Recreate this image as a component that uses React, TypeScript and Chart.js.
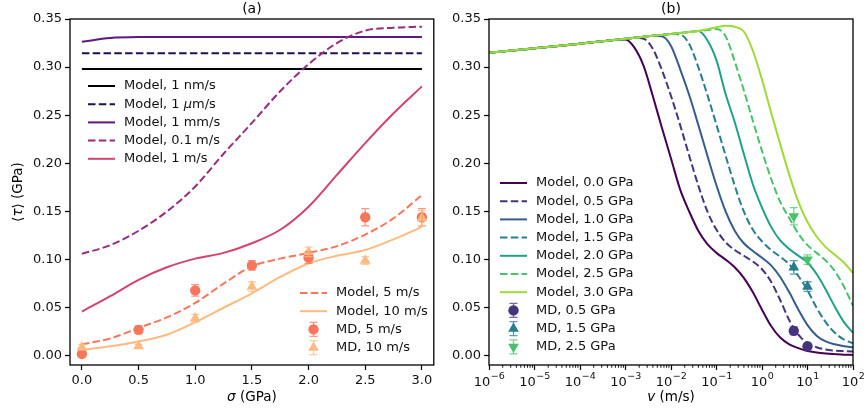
import React, { useEffect, useRef } from 'react';
import { Chart, registerables } from 'chart.js';

Chart.register(...registerables);

const FONT = "'DejaVu Sans', sans-serif";

// ---------- shared ticks ----------
const YTICKS = [0, 0.05, 0.1, 0.15, 0.2, 0.25, 0.3, 0.35];
const YTICK_LABELS = ['0.00', '0.05', '0.10', '0.15', '0.20', '0.25', '0.30', '0.35'];

// ---------- panel (a) ----------
const XTICKS_A = [0, 0.5, 1, 1.5, 2, 2.5, 3];
const XTICK_LABELS_A = ['0.0', '0.5', '1.0', '1.5', '2.0', '2.5', '3.0'];

const SIGMA_ENDS = [0, 3];
const SIGMA = [0, 0.25, 0.5, 0.75, 1, 1.25, 1.5, 1.75, 2, 2.25, 2.5, 2.75, 3];

const MODEL_1NM = [0.298, 0.298];
const MODEL_1UM = [0.3143, 0.3143];
const MODEL_1MM = [0.3264, 0.3302, 0.3312, 0.3313, 0.3313, 0.3313, 0.3313, 0.3313, 0.3313, 0.3313, 0.3313, 0.3313, 0.3313];
const MODEL_01MS = [0.106, 0.115, 0.13, 0.15, 0.176, 0.21, 0.242, 0.275, 0.303, 0.325, 0.338, 0.341, 0.342];
const MODEL_1MS = [0.046, 0.062, 0.079, 0.092, 0.101, 0.107, 0.117, 0.131, 0.155, 0.188, 0.221, 0.252, 0.28];
const MODEL_5MS = [0.012, 0.018, 0.029, 0.04, 0.055, 0.075, 0.093, 0.101, 0.107, 0.114, 0.126, 0.143, 0.167];
const MODEL_10MS = [0.006, 0.01, 0.015, 0.022, 0.035, 0.05, 0.065, 0.082, 0.096, 0.104, 0.11, 0.121, 0.134];

const MD_SIGMA = [0, 0.5, 1, 1.5, 2, 2.5, 3];
const MD_5MS = [0.002, 0.027, 0.068, 0.094, 0.102, 0.144, 0.144];
const MD_5MS_ERR = [0.003, 0.004, 0.006, 0.005, 0.006, 0.009, 0.009];
const MD_10MS = [0.009, 0.01, 0.039, 0.072, 0.108, 0.099, 0.143];
const MD_10MS_ERR = [0.003, 0.002, 0.004, 0.005, 0.005, 0.004, 0.008];

// ---------- panel (b) ----------
const XTICKS_B = [1e-6, 1e-5, 1e-4, 1e-3, 1e-2, 1e-1, 1, 10, 100];
const XTICK_BASE_B = '10';
const XTICK_EXP_B = ['−6', '−5', '−4', '−3', '−2', '−1', '0', '1', '2'];
const MINOR_DECADES = [-6, -5, -4, -3, -2, -1, 0, 1];
const MINOR_MULT = [2, 3, 4, 5, 6, 7, 8, 9];

const V_EXP = [-6, -5, -4, -3.5, -3.2, -3.0, -2.8, -2.6, -2.4, -2.2, -2.0, -1.8, -1.6, -1.4, -1.2, -1.0, -0.8, -0.6, -0.4, -0.2, 0.0, 0.2, 0.4, 0.6, 0.8, 1.0, 1.2, 1.4, 1.6, 1.8, 2.0];

const P00 = [0.315, 0.3195, 0.3243, 0.327, 0.3285, 0.3288, 0.32, 0.301, 0.27, 0.237, 0.205, 0.173, 0.15, 0.13, 0.116, 0.107, 0.1, 0.092, 0.081, 0.066, 0.048, 0.031, 0.019, 0.012, 0.008, 0.005, 0.0035, 0.0025, 0.0018, 0.0012, 0.001];
const P05 = [0.315, 0.3195, 0.3243, 0.327, 0.3285, 0.3295, 0.3305, 0.3295, 0.319, 0.297, 0.27, 0.24, 0.208, 0.177, 0.15, 0.131, 0.118, 0.11, 0.104, 0.098, 0.09, 0.077, 0.058, 0.037, 0.022, 0.013, 0.009, 0.0065, 0.0055, 0.005, 0.0045];
const P10 = [0.315, 0.3195, 0.3243, 0.327, 0.3285, 0.3295, 0.3305, 0.3315, 0.3325, 0.332, 0.322, 0.298, 0.271, 0.24, 0.208, 0.177, 0.15, 0.13, 0.117, 0.109, 0.102, 0.094, 0.082, 0.066, 0.048, 0.032, 0.021, 0.015, 0.012, 0.01, 0.009];
const P15 = [0.315, 0.3195, 0.3243, 0.327, 0.3285, 0.3295, 0.3305, 0.3315, 0.3325, 0.3335, 0.3345, 0.334, 0.324, 0.3, 0.271, 0.24, 0.208, 0.177, 0.15, 0.131, 0.119, 0.11, 0.103, 0.095, 0.083, 0.068, 0.05, 0.035, 0.024, 0.017, 0.013];
const P20 = [0.315, 0.3195, 0.3243, 0.327, 0.3285, 0.3295, 0.3305, 0.3315, 0.3325, 0.3335, 0.3345, 0.3355, 0.3365, 0.3375, 0.328, 0.307, 0.272, 0.243, 0.21, 0.178, 0.154, 0.134, 0.12, 0.111, 0.104, 0.097, 0.085, 0.069, 0.051, 0.035, 0.024];
const P25 = [0.315, 0.3195, 0.3243, 0.327, 0.3285, 0.3295, 0.3305, 0.3315, 0.3325, 0.3335, 0.3345, 0.3355, 0.3365, 0.3375, 0.3385, 0.3395, 0.332, 0.306, 0.276, 0.244, 0.213, 0.184, 0.16, 0.143, 0.127, 0.115, 0.107, 0.099, 0.088, 0.072, 0.052];
const P30 = [0.315, 0.3195, 0.3243, 0.327, 0.3285, 0.3295, 0.3305, 0.3315, 0.3325, 0.3335, 0.3345, 0.3355, 0.3365, 0.3375, 0.3395, 0.3415, 0.343, 0.342, 0.337, 0.317, 0.287, 0.253, 0.22, 0.188, 0.16, 0.139, 0.124, 0.113, 0.105, 0.097, 0.086];

const MD_V = [5, 10];
const MD_05 = [0.026, 0.01];
const MD_05_ERR = [0.004, 0.002];
const MD_15 = [0.092, 0.072];
const MD_15_ERR = [0.007, 0.005];
const MD_25 = [0.145, 0.1];
const MD_25_ERR = [0.009, 0.005];

const MAGMA = ['#000004', '#221150', '#5f187f', '#982d80', '#d3436e', '#f8765c', '#febb81'];
const VIR = ['#440154', '#46337e', '#365c8d', '#277f8e', '#1fa187', '#4ac16d', '#a0da39'];

const DASH = [7.5, 3.3];
const LW = 2;

// ---------- helpers ----------
const pts = (xs: number[], ys: number[]) => xs.map((x, i) => ({ x, y: ys[i] }));

function lineDs(label: string, xs: number[], ys: number[], color: string, dashed: boolean, order: number) {
  return {
    label, data: pts(xs, ys), showLine: true, borderColor: color, backgroundColor: color,
    borderWidth: LW, borderDash: dashed ? DASH : [], pointRadius: 0, pointHoverRadius: 0,
    cubicInterpolationMode: 'monotone', fill: false, order,
  };
}

function mdDs(label: string, xs: number[], ys: number[], errs: number[], color: string, style: string, rotation: number, radius: number, order: number) {
  return {
    label, data: pts(xs, ys), showLine: false, pointStyle: style, pointRotation: rotation,
    pointRadius: radius, pointHoverRadius: radius, pointBackgroundColor: color, pointBorderColor: color,
    borderColor: color, backgroundColor: color, pointBorderWidth: 0, errorBars: errs, order,
  };
}

function drawRich(ctx: CanvasRenderingContext2D, text: string, x: number, y: number, size: number, align: string) {
  const parts = text.split('$');
  const widths: number[] = [];
  let total = 0;
  parts.forEach((p, i) => {
    ctx.font = `${i % 2 ? 'italic ' : ''}${size}px ${FONT}`;
    const w = ctx.measureText(p).width;
    widths.push(w);
    total += w;
  });
  let cx = align === 'center' ? x - total / 2 : x;
  ctx.textAlign = 'left';
  ctx.textBaseline = 'middle';
  parts.forEach((p, i) => {
    ctx.font = `${i % 2 ? 'italic ' : ''}${size}px ${FONT}`;
    ctx.fillText(p, cx, y);
    cx += widths[i];
  });
}

function drawMarker(ctx: CanvasRenderingContext2D, style: string, rotation: number, r: number, x: number, y: number, color: string) {
  ctx.fillStyle = color;
  ctx.beginPath();
  if (style === 'circle') {
    ctx.arc(x, y, r, 0, Math.PI * 2);
  } else {
    let rad = (rotation * Math.PI) / 180;
    ctx.moveTo(x + Math.sin(rad) * r, y - Math.cos(rad) * r);
    rad += (2 * Math.PI) / 3;
    ctx.lineTo(x + Math.sin(rad) * r, y - Math.cos(rad) * r);
    rad += (2 * Math.PI) / 3;
    ctx.lineTo(x + Math.sin(rad) * r, y - Math.cos(rad) * r);
    ctx.closePath();
  }
  ctx.fill();
}

function drawErrBar(ctx: CanvasRenderingContext2D, x: number, y1: number, y2: number, color: string) {
  ctx.save();
  ctx.strokeStyle = color;
  ctx.globalAlpha = 0.75;
  ctx.lineWidth = 1.3;
  ctx.setLineDash([]);
  ctx.beginPath();
  ctx.moveTo(x, y1); ctx.lineTo(x, y2);
  ctx.moveTo(x - 4, y1); ctx.lineTo(x + 4, y1);
  ctx.moveTo(x - 4, y2); ctx.lineTo(x + 4, y2);
  ctx.stroke();
  ctx.restore();
}

const panelPlugin = {
  id: 'panel',
  afterDatasetsDraw(chart: any) {
    const ctx = chart.ctx;
    const ys = chart.scales.y;
    ctx.save();
    const a = chart.chartArea;
    ctx.beginPath();
    ctx.rect(a.left, a.top, a.right - a.left, a.bottom - a.top);
    ctx.clip();
    chart.data.datasets.forEach((ds: any, i: number) => {
      if (!ds.errorBars) return;
      const meta = chart.getDatasetMeta(i);
      meta.data.forEach((el: any, j: number) => {
        const v = ds.data[j].y;
        const e = ds.errorBars[j];
        drawErrBar(ctx, el.x, ys.getPixelForValue(v + e), ys.getPixelForValue(v - e), ds.pointBackgroundColor);
      });
    });
    ctx.restore();
  },
  afterDraw(chart: any, _args: any, opts: any) {
    const ctx = chart.ctx;
    const a = chart.chartArea;
    ctx.save();
    // frame
    ctx.strokeStyle = '#000';
    ctx.lineWidth = 1.3;
    ctx.setLineDash([]);
    ctx.strokeRect(a.left, a.top, a.right - a.left, a.bottom - a.top);
    // minor ticks + power-of-ten tick labels
    if (opts.logTicks) {
      const xs = chart.scales.x;
      ctx.lineWidth = 0.9;
      ctx.beginPath();
      MINOR_DECADES.forEach((d) => {
        MINOR_MULT.forEach((m) => {
          const px = xs.getPixelForValue(m * Math.pow(10, d));
          ctx.moveTo(px, a.bottom);
          ctx.lineTo(px, a.bottom + 2.8);
        });
      });
      ctx.stroke();
      ctx.fillStyle = '#111';
      ctx.textAlign = 'left';
      ctx.textBaseline = 'middle';
      XTICKS_B.forEach((v, i) => {
        const px = xs.getPixelForValue(v);
        ctx.font = `13px ${FONT}`;
        const wb = ctx.measureText(XTICK_BASE_B).width;
        ctx.font = `9.5px ${FONT}`;
        const we = ctx.measureText(XTICK_EXP_B[i]).width;
        const x0 = px - (wb + we) / 2;
        ctx.font = `13px ${FONT}`;
        ctx.fillText(XTICK_BASE_B, x0, a.bottom + 17.5);
        ctx.font = `9.5px ${FONT}`;
        ctx.fillText(XTICK_EXP_B[i], x0 + wb + 0.5, a.bottom + 11.5);
      });
    }
    ctx.fillStyle = '#000';
    const cx = (a.left + a.right) / 2;
    if (opts.title) drawRich(ctx, opts.title, cx, a.top - 10, 14, 'center');
    if (opts.xTitle) drawRich(ctx, opts.xTitle, cx, 397, 13.5, 'center');
    if (opts.yTitle) {
      ctx.save();
      ctx.translate(18, (a.top + a.bottom) / 2);
      ctx.rotate(-Math.PI / 2);
      drawRich(ctx, opts.yTitle, 0, 0, 13.5, 'center');
      ctx.restore();
    }
    // legends
    (opts.legends || []).forEach((lg: any) => {
      lg.items.forEach((idx: number, k: number) => {
        const ds = chart.data.datasets[idx];
        const x0 = a.left + lg.dx;
        const y = a.top + lg.dy + k * 18.2;
        if (ds.errorBars) {
          const mx = x0 + 13.5;
          drawErrBar(ctx, mx, y - 7, y + 7, ds.pointBackgroundColor);
          drawMarker(ctx, ds.pointStyle, ds.pointRotation || 0, ds.pointRadius, mx, y, ds.pointBackgroundColor);
        } else {
          ctx.strokeStyle = ds.borderColor;
          ctx.lineWidth = ds.borderWidth;
          ctx.setLineDash(ds.borderDash || []);
          ctx.beginPath();
          ctx.moveTo(x0, y);
          ctx.lineTo(x0 + 27, y);
          ctx.stroke();
          ctx.setLineDash([]);
        }
        ctx.fillStyle = '#111';
        drawRich(ctx, ds.label, x0 + 36, y, 13, 'left');
      });
    });
    ctx.restore();
  },
};

function yScale(width: number) {
  return {
    type: 'linear',
    min: -0.0095,
    max: 0.35,
    afterFit: (s: any) => { s.width = width; },
    afterBuildTicks: (s: any) => { s.ticks = YTICKS.map((v) => ({ value: v })); },
    ticks: {
      callback: (_v: any, i: number) => YTICK_LABELS[i],
      font: { family: FONT, size: 13 }, color: '#111', padding: 3, autoSkip: false,
    },
    grid: { drawOnChartArea: false, drawTicks: true, tickLength: 5, tickColor: '#000', tickWidth: 1.2 },
    border: { display: false },
  };
}

function xGrid() {
  return { drawOnChartArea: false, drawTicks: true, tickLength: 5, tickColor: '#000', tickWidth: 1.2 };
}

function baseOptions(padRight: number) {
  return {
    animation: false,
    responsive: false,
    devicePixelRatio: 1,
    events: [],
    layout: { padding: { left: 0, right: padRight, top: 19, bottom: 0 } },
  };
}

function buildA(canvas: HTMLCanvasElement) {
  const datasets = [
    lineDs('Model, 1 nm/s', SIGMA_ENDS, MODEL_1NM, MAGMA[0], false, 20),
    lineDs('Model, 1 $μ$m/s', SIGMA_ENDS, MODEL_1UM, MAGMA[1], true, 19),
    lineDs('Model, 1 mm/s', SIGMA, MODEL_1MM, MAGMA[2], false, 18),
    lineDs('Model, 0.1 m/s', SIGMA, MODEL_01MS, MAGMA[3], true, 17),
    lineDs('Model, 1 m/s', SIGMA, MODEL_1MS, MAGMA[4], false, 16),
    lineDs('Model, 5 m/s', SIGMA, MODEL_5MS, MAGMA[5], true, 15),
    lineDs('Model, 10 m/s', SIGMA, MODEL_10MS, MAGMA[6], false, 14),
    mdDs('MD, 5 m/s', MD_SIGMA, MD_5MS, MD_5MS_ERR, MAGMA[5], 'circle', 0, 5.2, 13),
    mdDs('MD, 10 m/s', MD_SIGMA, MD_10MS, MD_10MS_ERR, MAGMA[6], 'triangle', 0, 6.2, 12),
  ];
  return new Chart(canvas, {
    type: 'scatter',
    data: { datasets } as any,
    options: {
      ...baseOptions(6),
      plugins: {
        legend: { display: false },
        tooltip: { enabled: false },
        panel: {
          title: '(a)',
          xTitle: '$σ$ (GPa)',
          yTitle: '⟨$τ$⟩ (GPa)',
          legends: [
            { dx: 18, dy: 67, items: [0, 1, 2, 3, 4] },
            { dx: 230, dy: 274, items: [5, 6, 7, 8] },
          ],
        },
      },
      scales: {
        x: {
          type: 'linear', min: -0.105, max: 3.105,
          afterFit: (s: any) => { s.height = 45; },
          afterBuildTicks: (s: any) => { s.ticks = XTICKS_A.map((v) => ({ value: v })); },
          ticks: {
            callback: (_v: any, i: number) => XTICK_LABELS_A[i],
            font: { family: FONT, size: 13 }, color: '#111', padding: 3, autoSkip: false, maxRotation: 0,
          },
          grid: xGrid(),
          border: { display: false },
        },
        y: yScale(70),
      },
    } as any,
    plugins: [panelPlugin],
  });
}

function buildB(canvas: HTMLCanvasElement) {
  const V = V_EXP.map((e) => Math.pow(10, e));
  const datasets = [
    lineDs('Model, 0.0 GPa', V, P00, VIR[0], false, 20),
    lineDs('Model, 0.5 GPa', V, P05, VIR[1], true, 19),
    lineDs('Model, 1.0 GPa', V, P10, VIR[2], false, 18),
    lineDs('Model, 1.5 GPa', V, P15, VIR[3], true, 17),
    lineDs('Model, 2.0 GPa', V, P20, VIR[4], false, 16),
    lineDs('Model, 2.5 GPa', V, P25, VIR[5], true, 15),
    lineDs('Model, 3.0 GPa', V, P30, VIR[6], false, 14),
    mdDs('MD, 0.5 GPa', MD_V, MD_05, MD_05_ERR, VIR[1], 'circle', 0, 5.2, 13),
    mdDs('MD, 1.5 GPa', MD_V, MD_15, MD_15_ERR, VIR[3], 'triangle', 0, 6.2, 12),
    mdDs('MD, 2.5 GPa', MD_V, MD_25, MD_25_ERR, VIR[5], 'triangle', 180, 6.2, 11),
  ];
  return new Chart(canvas, {
    type: 'scatter',
    data: { datasets } as any,
    options: {
      ...baseOptions(12),
      plugins: {
        legend: { display: false },
        tooltip: { enabled: false },
        panel: {
          title: '(b)',
          xTitle: '$v$ (m/s)',
          logTicks: true,
          legends: [{ dx: 11, dy: 164, items: [0, 1, 2, 3, 4, 5, 6, 7, 8, 9] }],
        },
      },
      scales: {
        x: {
          type: 'logarithmic', min: 1e-6, max: 100,
          afterFit: (s: any) => { s.height = 45; },
          afterBuildTicks: (s: any) => { s.ticks = XTICKS_B.map((v) => ({ value: v })); },
          ticks: {
            callback: () => '',
            font: { family: FONT, size: 13 }, color: '#111', padding: 3, autoSkip: false, maxRotation: 0,
          },
          grid: xGrid(),
          border: { display: false },
        },
        y: yScale(49),
      },
    } as any,
    plugins: [panelPlugin],
  });
}

export default function App() {
  const refA = useRef<HTMLCanvasElement>(null);
  const refB = useRef<HTMLCanvasElement>(null);
  useEffect(() => {
    const a = buildA(refA.current!);
    const b = buildB(refB.current!);
    return () => { a.destroy(); b.destroy(); };
  }, []);
  return (
    <div style={{ position: 'fixed', left: 0, top: 0, width: 865, height: 410, background: '#fff' }}>
      <canvas ref={refA} width={440} height={410} style={{ position: 'absolute', left: 0, top: 0 }} />
      <canvas ref={refB} width={425} height={410} style={{ position: 'absolute', left: 440, top: 0 }} />
    </div>
  );
}
